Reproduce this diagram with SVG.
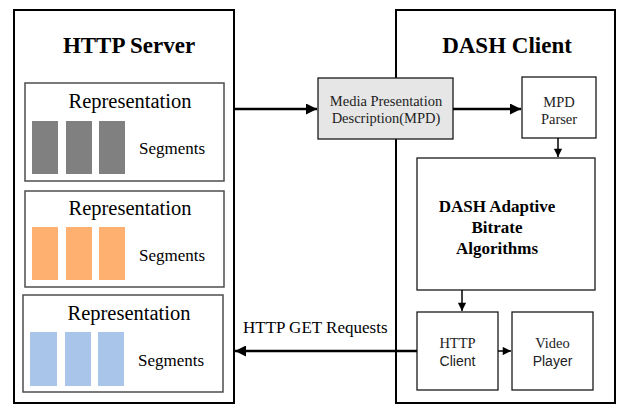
<svg xmlns="http://www.w3.org/2000/svg" width="617" height="406" viewBox="0 0 617 406">
  <style>
    .outer { fill: #ffffff; stroke: #000000; stroke-width: 2; }
    .rep { fill: #ffffff; stroke: #4d4d4d; stroke-width: 1.5; }
    .box { fill: #ffffff; stroke: #1a1a1a; stroke-width: 1.3; }
    .mpd { fill: #e6e6e6; stroke: #1a1a1a; stroke-width: 1.3; }
    .seg-gray { fill: #808080; }
    .seg-orange { fill: #fdb06f; }
    .seg-blue { fill: #a9c5e9; }
    .title { font-family: "Liberation Serif", "Times New Roman", serif; font-weight: bold; font-size: 23px; fill: #000; text-anchor: middle; }
    .reptext { font-family: "Liberation Serif", "Times New Roman", serif; font-size: 20.5px; fill: #000; text-anchor: middle; }
    .segtext { font-family: "Liberation Serif", "Times New Roman", serif; font-size: 17px; fill: #000; }
    .label { font-family: "Liberation Serif", "Times New Roman", serif; font-size: 14.5px; fill: #222; text-anchor: middle; }
    .label-sans { font-family: "Liberation Sans", Arial, sans-serif; font-size: 14px; fill: #222; text-anchor: middle; }
    .algo { font-family: "Liberation Serif", "Times New Roman", serif; font-weight: bold; font-size: 17px; fill: #000; text-anchor: middle; }
    .edge { fill: none; stroke: #000; stroke-width: 2.5; }
    .edge-thin { fill: none; stroke: #000; stroke-width: 1.5; }
  </style>
  <defs>
    <marker id="arrow" viewBox="0 0 10 10" refX="10" refY="5" markerWidth="5.6" markerHeight="4.4" orient="auto" markerUnits="strokeWidth">
      <path d="M0,0 L10,5 L0,10 z" fill="#000"/>
    </marker>
    <marker id="arrow-sm" viewBox="0 0 10 10" refX="10" refY="5" markerWidth="6.5" markerHeight="5.5" orient="auto" markerUnits="strokeWidth">
      <path d="M0,0 L10,5 L0,10 z" fill="#000"/>
    </marker>
  </defs>

  <!-- HTTP server container -->
  <g id="http-server">
    <rect class="outer" x="14" y="10" width="220" height="393"/>
    <text class="title" x="129" y="53">HTTP Server</text>
  </g>

  <g id="representation-1">
    <rect class="rep" x="25" y="83" width="199" height="98"/>
    <text class="reptext" x="130" y="108">Representation</text>
    <rect class="seg-gray" x="32" y="121" width="26" height="53"/>
    <rect class="seg-gray" x="66" y="121" width="26" height="53"/>
    <rect class="seg-gray" x="99" y="121" width="26" height="53"/>
    <text class="segtext" x="139" y="154">Segments</text>
  </g>

  <g id="representation-2">
    <rect class="rep" x="25" y="191" width="199" height="96"/>
    <text class="reptext" x="130" y="215">Representation</text>
    <rect class="seg-orange" x="32" y="227" width="26" height="53"/>
    <rect class="seg-orange" x="66" y="227" width="26" height="53"/>
    <rect class="seg-orange" x="99" y="227" width="26" height="53"/>
    <text class="segtext" x="139" y="261">Segments</text>
  </g>

  <g id="representation-3">
    <rect class="rep" x="23" y="295" width="200" height="97"/>
    <text class="reptext" x="129" y="320">Representation</text>
    <rect class="seg-blue" x="30" y="332" width="27" height="54"/>
    <rect class="seg-blue" x="65" y="332" width="26" height="54"/>
    <rect class="seg-blue" x="98" y="332" width="26" height="54"/>
    <text class="segtext" x="138" y="366">Segments</text>
  </g>

  <!-- DASH client container -->
  <g id="dash-client">
    <rect class="outer" x="396" y="10" width="219" height="393"/>
    <text class="title" x="507" y="53">DASH Client</text>
  </g>

  <g id="mpd">
    <rect class="mpd" x="318" y="78" width="135" height="61"/>
    <text class="label" x="386" y="106">Media Presentation</text>
    <text class="label" x="386" y="123">Description(MPD)</text>
  </g>

  <g id="mpd-parser">
    <rect class="box" x="522" y="77" width="74" height="61"/>
    <text class="label" x="559" y="107">MPD</text>
    <text class="label" x="559" y="124">Parser</text>
  </g>

  <g id="abr-algorithms">
    <rect class="box" x="417" y="158" width="178" height="132"/>
    <text class="algo" x="497" y="212">DASH Adaptive</text>
    <text class="algo" x="497" y="233">Bitrate</text>
    <text class="algo" x="497" y="254">Algorithms</text>
  </g>

  <g id="http-client">
    <rect class="box" x="417" y="312" width="81" height="78"/>
    <text class="label" x="457.5" y="348">HTTP</text>
    <text class="label-sans" x="457.5" y="366">Client</text>
  </g>

  <g id="video-player">
    <rect class="box" x="512" y="312" width="81" height="78"/>
    <text class="label" x="552.5" y="348">Video</text>
    <text class="label-sans" x="552.5" y="366">Player</text>
  </g>

  <!-- connectors -->
  <g id="connectors">
    <line class="edge" x1="235" y1="109" x2="317" y2="109" marker-end="url(#arrow)"/>
    <line class="edge" x1="453" y1="109" x2="521" y2="109" marker-end="url(#arrow)"/>
    <line class="edge-thin" x1="558" y1="138" x2="558" y2="157" marker-end="url(#arrow-sm)"/>
    <line class="edge-thin" x1="462" y1="290" x2="462" y2="311" marker-end="url(#arrow-sm)"/>
    <line class="edge-thin" x1="498" y1="351" x2="511" y2="351" marker-end="url(#arrow-sm)"/>
    <line class="edge" x1="417" y1="351" x2="235" y2="351" marker-end="url(#arrow)"/>
    <text class="segtext" x="243" y="333">HTTP GET Requests</text>
  </g>
</svg>
